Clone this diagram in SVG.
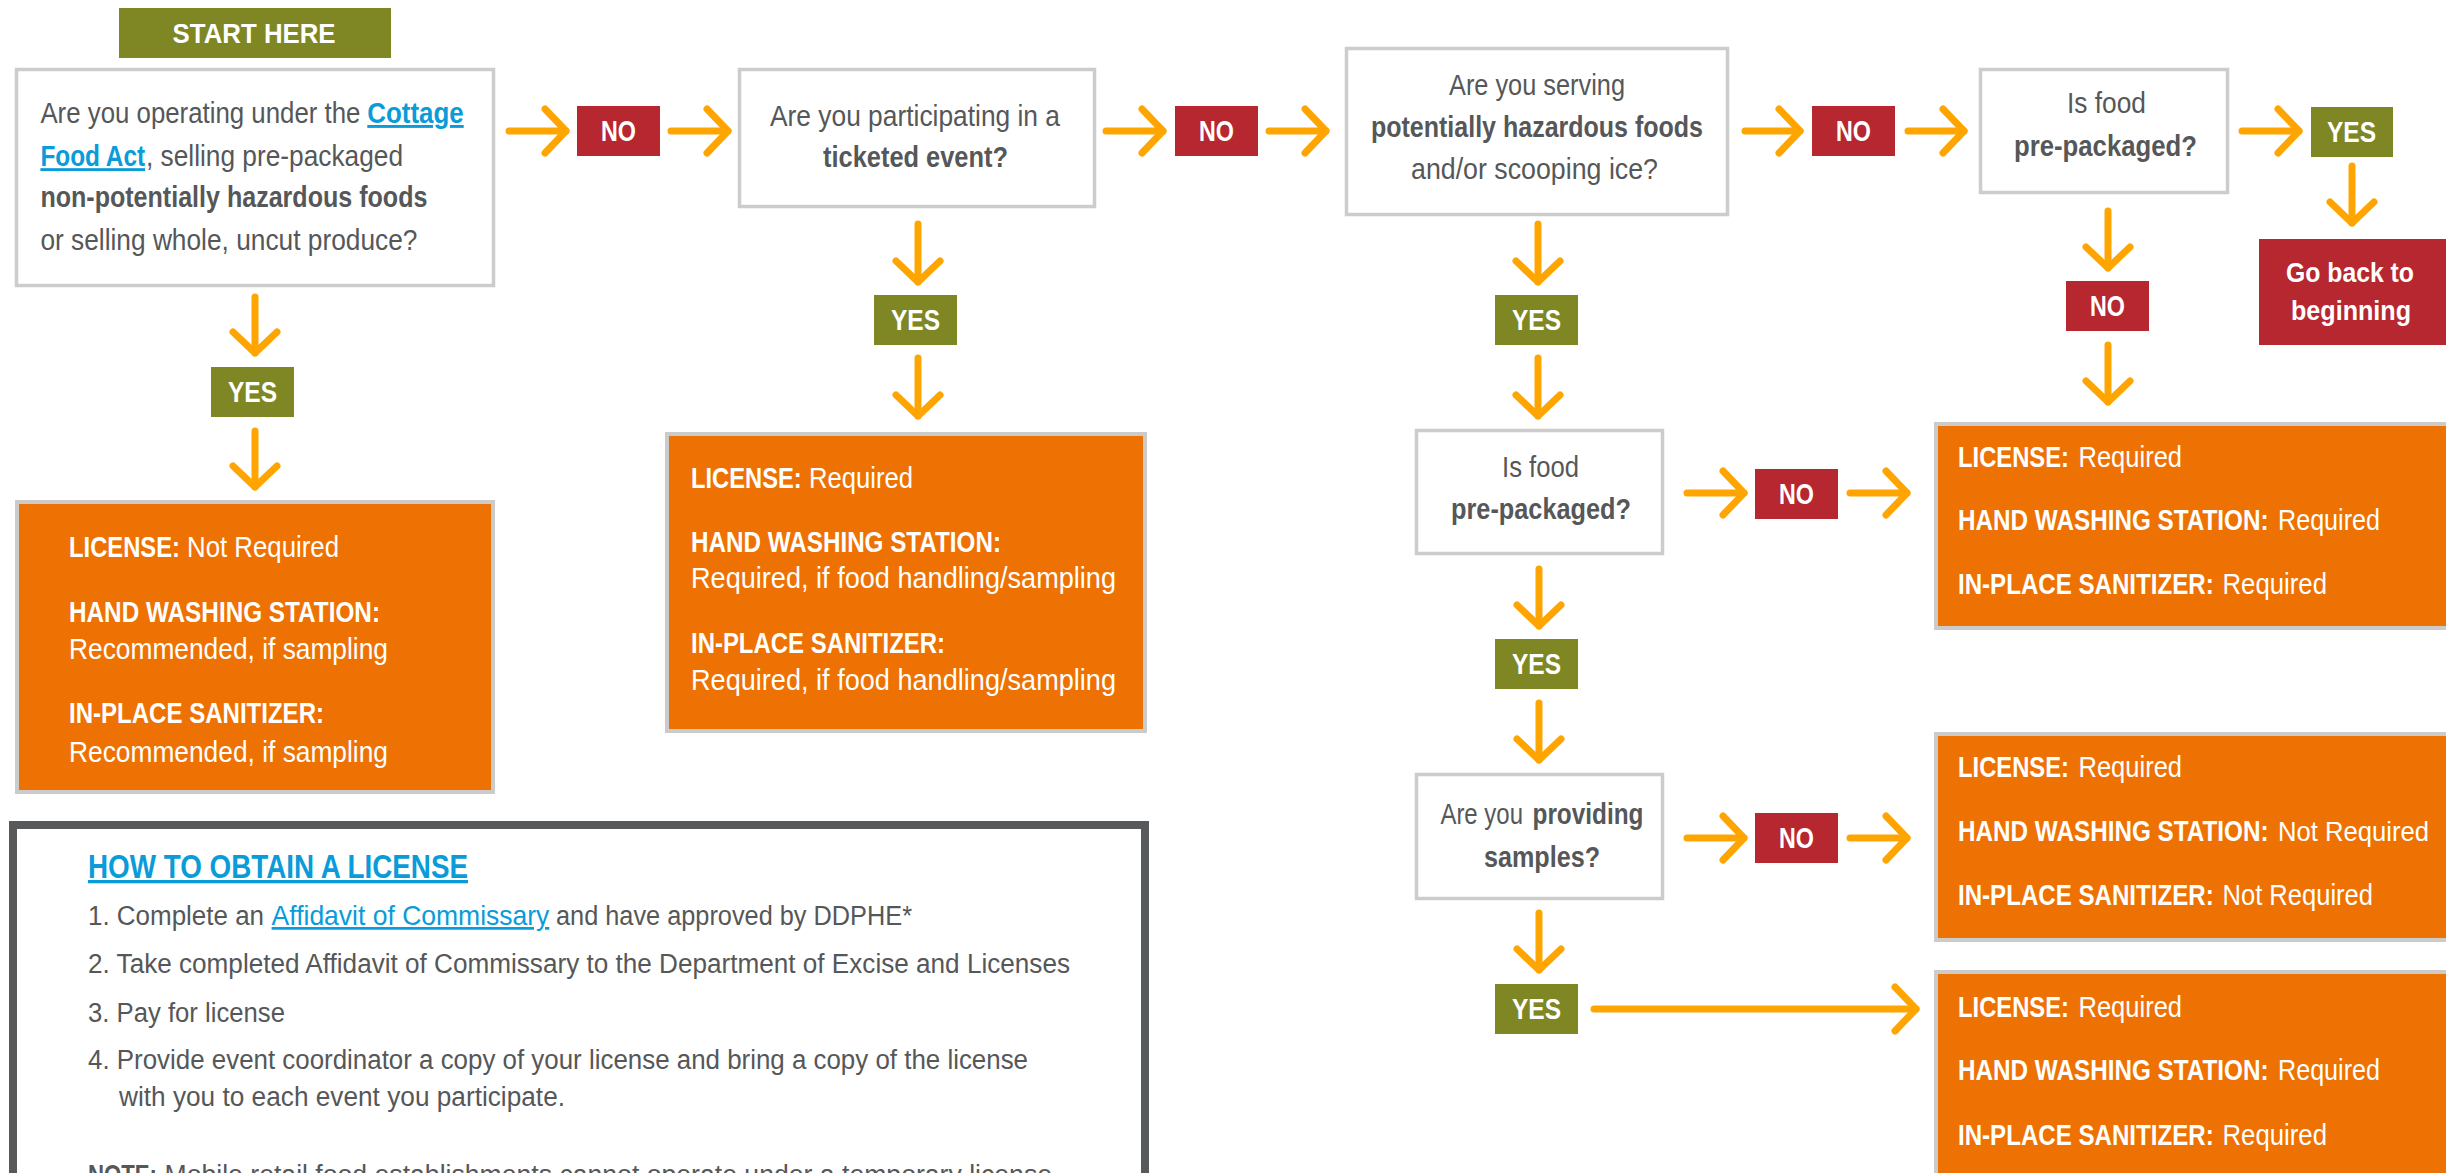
<svg xmlns="http://www.w3.org/2000/svg" width="2446" height="1173" viewBox="0 0 2446 1173">
<defs>
<style>
text { font-family: "Liberation Sans", Arial, sans-serif; }
.t { font-size: 29px; fill: #555759; }
.s { font-size: 27px; fill: #555759; }
.w { font-size: 29px; fill: #ffffff; }
.lab { font-size: 30px; font-weight: bold; fill: #ffffff; }
.b { font-weight: bold; }
.lnk { fill: #0a9bd9; font-weight: bold; text-decoration: underline; }
.lnkr { fill: #0a9bd9; text-decoration: underline; }
.q { fill: #ffffff; stroke: #cccccc; stroke-width: 3.5; }
.o { fill: #ee7203; stroke: #cbcbcb; stroke-width: 4; }
.no { fill: #b72730; }
.yes { fill: #7f8724; }
#connectors line { stroke: #ffa502; stroke-width: 7; stroke-linecap: round; }
</style>
<marker id="ah" viewBox="-28 -28 34 56" refX="0" refY="0" markerWidth="34" markerHeight="56" markerUnits="userSpaceOnUse" orient="auto">
<path d="M-21 -22 L0 0 L-21 22" fill="none" stroke="#ffa502" stroke-width="7" stroke-linecap="round" stroke-linejoin="round"/>
</marker>
</defs>
<rect width="2446" height="1173" fill="#ffffff"/>

<g id="start">
<rect x="119" y="8" width="272" height="50" class="yes"/>
<text x="172.6" y="43" class="lab" style="font-size:28px" textLength="163" lengthAdjust="spacingAndGlyphs">START HERE</text>
</g>

<g id="q1">
<rect x="16.5" y="69.5" width="477" height="216" class="q"/>
<text transform="translate(40.4 123) scale(0.89 1)" class="t" textLength="359.55" lengthAdjust="spacingAndGlyphs">Are you operating under the</text>
<text x="367.3" y="123" class="t lnk" textLength="96.4" lengthAdjust="spacingAndGlyphs">Cottage</text>
<text transform="translate(40.4 166) scale(0.833 1)" class="t lnk" textLength="125.69" lengthAdjust="spacingAndGlyphs">Food Act</text>
<text x="146" y="166" class="t" textLength="257" lengthAdjust="spacingAndGlyphs">, selling pre-packaged</text>
<text x="40.4" y="207" class="t b" textLength="387" lengthAdjust="spacingAndGlyphs">non-potentially hazardous foods</text>
<text x="40.4" y="250" class="t" textLength="377" lengthAdjust="spacingAndGlyphs">or selling whole, uncut produce?</text>
</g>

<g id="no1"><rect x="577" y="106" width="83" height="50" class="no"/><text x="601" y="141" class="lab" textLength="35" lengthAdjust="spacingAndGlyphs">NO</text></g>

<g id="q2">
<rect x="739.5" y="69.5" width="355" height="137" class="q"/>
<text x="770" y="126" class="t" textLength="290" lengthAdjust="spacingAndGlyphs">Are you participating in a</text>
<text x="823" y="167" class="t b" textLength="185" lengthAdjust="spacingAndGlyphs">ticketed event?</text>
</g>

<g id="no2"><rect x="1175" y="106" width="83" height="50" class="no"/><text x="1199" y="141" class="lab" textLength="35" lengthAdjust="spacingAndGlyphs">NO</text></g>

<g id="q3">
<rect x="1346.5" y="48.5" width="381" height="166" class="q"/>
<text x="1449" y="95" class="t" textLength="176" lengthAdjust="spacingAndGlyphs">Are you serving</text>
<text x="1371" y="137" class="t b" textLength="332" lengthAdjust="spacingAndGlyphs">potentially hazardous foods</text>
<text x="1411" y="179" class="t" textLength="247" lengthAdjust="spacingAndGlyphs">and/or scooping ice?</text>
</g>

<g id="no3"><rect x="1812" y="106" width="83" height="50" class="no"/><text x="1836" y="141" class="lab" textLength="35" lengthAdjust="spacingAndGlyphs">NO</text></g>

<g id="q4">
<rect x="1980.5" y="69.5" width="247" height="123" class="q"/>
<text x="2067" y="113" class="t" textLength="79" lengthAdjust="spacingAndGlyphs">Is food</text>
<text x="2014" y="156" class="t b" textLength="183" lengthAdjust="spacingAndGlyphs">pre-packaged?</text>
</g>

<g id="yes4"><rect x="2311" y="107" width="82" height="50" class="yes"/><text x="2327" y="142" class="lab" textLength="49" lengthAdjust="spacingAndGlyphs">YES</text></g>

<g id="goback">
<rect x="2259" y="239" width="187" height="106" class="no"/>
<text x="2286" y="282" class="lab" style="font-size:28px" textLength="128" lengthAdjust="spacingAndGlyphs">Go back to</text>
<text x="2291" y="320" class="lab" style="font-size:28px" textLength="120" lengthAdjust="spacingAndGlyphs">beginning</text>
</g>

<g id="no4"><rect x="2066" y="281" width="83" height="50" class="no"/><text x="2090" y="316" class="lab" textLength="35" lengthAdjust="spacingAndGlyphs">NO</text></g>

<g id="yes1"><rect x="211" y="367" width="83" height="50" class="yes"/><text x="228" y="402" class="lab" textLength="49" lengthAdjust="spacingAndGlyphs">YES</text></g>

<g id="yes2"><rect x="874" y="295" width="83" height="50" class="yes"/><text x="891" y="330" class="lab" textLength="49" lengthAdjust="spacingAndGlyphs">YES</text></g>

<g id="yes3"><rect x="1495" y="295" width="83" height="50" class="yes"/><text x="1512" y="330" class="lab" textLength="49" lengthAdjust="spacingAndGlyphs">YES</text></g>

<g id="box1">
<rect x="17" y="502" width="476" height="290" class="o"/>
<text transform="translate(69 557) scale(0.82 1)" class="w b" textLength="135.37" lengthAdjust="spacingAndGlyphs">LICENSE:</text>
<text x="187" y="557" class="w" textLength="152" lengthAdjust="spacingAndGlyphs">Not Required</text>
<text x="69" y="622" class="w b" textLength="311" lengthAdjust="spacingAndGlyphs">HAND WASHING STATION:</text>
<text x="69" y="659" class="w" textLength="319" lengthAdjust="spacingAndGlyphs">Recommended, if sampling</text>
<text x="69" y="723" class="w b" textLength="255" lengthAdjust="spacingAndGlyphs">IN-PLACE SANITIZER:</text>
<text x="69" y="762" class="w" textLength="319" lengthAdjust="spacingAndGlyphs">Recommended, if sampling</text>
</g>

<g id="box2">
<rect x="667" y="434" width="478" height="297" class="o"/>
<text transform="translate(691 488) scale(0.818 1)" class="w b" textLength="135.33" lengthAdjust="spacingAndGlyphs">LICENSE:</text>
<text x="809" y="488" class="w" textLength="104" lengthAdjust="spacingAndGlyphs">Required</text>
<text x="691" y="552" class="w b" textLength="310" lengthAdjust="spacingAndGlyphs">HAND WASHING STATION:</text>
<text x="691" y="588" class="w" textLength="425" lengthAdjust="spacingAndGlyphs">Required, if food handling/sampling</text>
<text x="691" y="653" class="w b" textLength="254" lengthAdjust="spacingAndGlyphs">IN-PLACE SANITIZER:</text>
<text x="691" y="690" class="w" textLength="425" lengthAdjust="spacingAndGlyphs">Required, if food handling/sampling</text>
</g>

<g id="q5">
<rect x="1416.5" y="430.5" width="246" height="123" class="q"/>
<text x="1502" y="477" class="t" textLength="77" lengthAdjust="spacingAndGlyphs">Is food</text>
<text x="1451" y="519" class="t b" textLength="180" lengthAdjust="spacingAndGlyphs">pre-packaged?</text>
</g>

<g id="no5"><rect x="1755" y="469" width="83" height="50" class="no"/><text x="1779" y="504" class="lab" textLength="35" lengthAdjust="spacingAndGlyphs">NO</text></g>

<g id="box4">
<rect x="1936" y="424" width="530" height="204" class="o"/>
<text transform="translate(1958 467) scale(0.82 1)" class="w b" textLength="135.37" lengthAdjust="spacingAndGlyphs">LICENSE:</text>
<text x="2078.5" y="467" class="w" textLength="103.5" lengthAdjust="spacingAndGlyphs">Required</text>
<text transform="translate(1958 530) scale(0.824 1)" class="w b" textLength="376.94" lengthAdjust="spacingAndGlyphs">HAND WASHING STATION:</text>
<text x="2278" y="530" class="w" textLength="102" lengthAdjust="spacingAndGlyphs">Required</text>
<text transform="translate(1958 594) scale(0.831 1)" class="w b" textLength="307.7" lengthAdjust="spacingAndGlyphs">IN-PLACE SANITIZER:</text>
<text x="2222.5" y="594" class="w" textLength="104.5" lengthAdjust="spacingAndGlyphs">Required</text>
</g>

<g id="yes5"><rect x="1495" y="639" width="83" height="50" class="yes"/><text x="1512" y="674" class="lab" textLength="49" lengthAdjust="spacingAndGlyphs">YES</text></g>

<g id="q6">
<rect x="1416.5" y="774.5" width="246" height="124" class="q"/>
<text transform="translate(1440.4 824) scale(0.827 1)" class="t" textLength="99.88" lengthAdjust="spacingAndGlyphs">Are you</text>
<text x="1532.5" y="824" class="t b" textLength="111" lengthAdjust="spacingAndGlyphs">providing</text>
<text x="1484" y="867" class="t b" textLength="116" lengthAdjust="spacingAndGlyphs">samples?</text>
</g>

<g id="no6"><rect x="1755" y="813" width="83" height="50" class="no"/><text x="1779" y="848" class="lab" textLength="35" lengthAdjust="spacingAndGlyphs">NO</text></g>

<g id="box5">
<rect x="1936" y="734" width="530" height="206" class="o"/>
<text transform="translate(1958 777) scale(0.82 1)" class="w b" textLength="135.37" lengthAdjust="spacingAndGlyphs">LICENSE:</text>
<text x="2078.5" y="777" class="w" textLength="103.5" lengthAdjust="spacingAndGlyphs">Required</text>
<text transform="translate(1958 841) scale(0.824 1)" class="w b" textLength="376.94" lengthAdjust="spacingAndGlyphs">HAND WASHING STATION:</text>
<text x="2278" y="841" class="w" style="font-size:28px" textLength="151" lengthAdjust="spacingAndGlyphs">Not Required</text>
<text transform="translate(1958 905) scale(0.831 1)" class="w b" textLength="307.7" lengthAdjust="spacingAndGlyphs">IN-PLACE SANITIZER:</text>
<text x="2222.5" y="905" class="w" textLength="150.5" lengthAdjust="spacingAndGlyphs">Not Required</text>
</g>

<g id="yes6"><rect x="1495" y="984" width="83" height="50" class="yes"/><text x="1512" y="1019" class="lab" textLength="49" lengthAdjust="spacingAndGlyphs">YES</text></g>

<g id="box6">
<rect x="1936" y="972" width="530" height="230" class="o"/>
<text transform="translate(1958 1017) scale(0.82 1)" class="w b" textLength="135.37" lengthAdjust="spacingAndGlyphs">LICENSE:</text>
<text x="2078.5" y="1017" class="w" textLength="103.5" lengthAdjust="spacingAndGlyphs">Required</text>
<text transform="translate(1958 1080) scale(0.824 1)" class="w b" textLength="376.94" lengthAdjust="spacingAndGlyphs">HAND WASHING STATION:</text>
<text x="2278" y="1080" class="w" textLength="102" lengthAdjust="spacingAndGlyphs">Required</text>
<text transform="translate(1958 1145) scale(0.831 1)" class="w b" textLength="307.7" lengthAdjust="spacingAndGlyphs">IN-PLACE SANITIZER:</text>
<text x="2222.5" y="1145" class="w" textLength="104.5" lengthAdjust="spacingAndGlyphs">Required</text>
</g>

<g id="howto">
<rect x="13" y="825" width="1132" height="420" fill="#ffffff" stroke="#58595b" stroke-width="8"/>
<text x="88" y="878" class="lnk" style="font-size:33px" textLength="380" lengthAdjust="spacingAndGlyphs">HOW TO OBTAIN A LICENSE</text>
<text transform="translate(88 925) scale(0.928 1)" class="s" textLength="189.66" lengthAdjust="spacingAndGlyphs">1. Complete an</text>
<text transform="translate(271.6 925) scale(0.979 1)" class="s lnkr" textLength="283.66" lengthAdjust="spacingAndGlyphs">Affidavit of Commissary</text>
<text x="556" y="925" class="s" textLength="356" lengthAdjust="spacingAndGlyphs">and have approved by DDPHE*</text>
<text x="88" y="973" class="s" textLength="982" lengthAdjust="spacingAndGlyphs">2. Take completed Affidavit of Commissary to the Department of Excise and Licenses</text>
<text x="88" y="1022" class="s" textLength="197" lengthAdjust="spacingAndGlyphs">3. Pay for license</text>
<text x="88" y="1069" class="s" textLength="940" lengthAdjust="spacingAndGlyphs">4. Provide event coordinator a copy of your license and bring a copy of the license</text>
<text x="119" y="1106" class="s" textLength="446" lengthAdjust="spacingAndGlyphs">with you to each event you participate.</text>
<text transform="translate(88 1184) scale(0.821 1)" class="s b" textLength="84.04" lengthAdjust="spacingAndGlyphs">NOTE:</text>
<text x="164.5" y="1184" class="s" textLength="887.5" lengthAdjust="spacingAndGlyphs">Mobile retail food establishments cannot operate under a temporary license</text>
</g>

<g id="connectors">
<line x1="509" y1="131" x2="566" y2="131" marker-end="url(#ah)"/>
<line x1="671" y1="131" x2="728" y2="131" marker-end="url(#ah)"/>
<line x1="1106" y1="131" x2="1163" y2="131" marker-end="url(#ah)"/>
<line x1="1269" y1="131" x2="1326" y2="131" marker-end="url(#ah)"/>
<line x1="1745" y1="131" x2="1800" y2="131" marker-end="url(#ah)"/>
<line x1="1908" y1="131" x2="1964" y2="131" marker-end="url(#ah)"/>
<line x1="2242" y1="131" x2="2299" y2="131" marker-end="url(#ah)"/>
<line x1="255" y1="297" x2="255" y2="353" marker-end="url(#ah)"/>
<line x1="255" y1="431" x2="255" y2="487" marker-end="url(#ah)"/>
<line x1="918" y1="224" x2="918" y2="282" marker-end="url(#ah)"/>
<line x1="918" y1="358" x2="918" y2="416" marker-end="url(#ah)"/>
<line x1="1538" y1="224" x2="1538" y2="282" marker-end="url(#ah)"/>
<line x1="1538" y1="358" x2="1538" y2="416" marker-end="url(#ah)"/>
<line x1="2108" y1="211" x2="2108" y2="268" marker-end="url(#ah)"/>
<line x1="2108" y1="345" x2="2108" y2="402" marker-end="url(#ah)"/>
<line x1="2352" y1="166" x2="2352" y2="223" marker-end="url(#ah)"/>
<line x1="1539" y1="569" x2="1539" y2="626" marker-end="url(#ah)"/>
<line x1="1539" y1="703" x2="1539" y2="760" marker-end="url(#ah)"/>
<line x1="1539" y1="913" x2="1539" y2="970" marker-end="url(#ah)"/>
<line x1="1687" y1="493" x2="1744" y2="493" marker-end="url(#ah)"/>
<line x1="1850" y1="493" x2="1907" y2="493" marker-end="url(#ah)"/>
<line x1="1687" y1="838" x2="1744" y2="838" marker-end="url(#ah)"/>
<line x1="1850" y1="838" x2="1907" y2="838" marker-end="url(#ah)"/>
<line x1="1594" y1="1009" x2="1916" y2="1009" marker-end="url(#ah)"/>
</g>
</svg>
